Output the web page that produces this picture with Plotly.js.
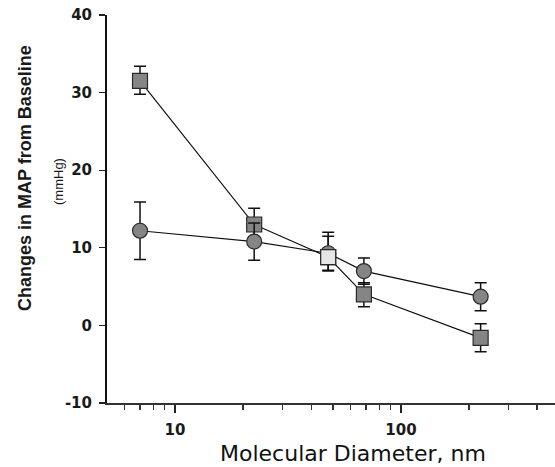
<!DOCTYPE html>
<html>
<head>
<meta charset="utf-8">
<script src="https://cdn.plot.ly/plotly-3.0.1.min.js"></script>
<style>html,body{margin:0;padding:0;background:#fff;}#chart{width:555px;height:467px;}</style>
</head>
<body>
<div id="chart"></div>
<script>
// Molecular diameter (nm)
var diameters = [7, 22.4, 47.6, 68.5, 225];
// Circle series: change in MAP (mmHg) and SEM
var circleValues = [12.2, 10.8, 9.3, 7.0, 3.7];
var circleErrPlus = [3.7, 2.4, 2.2, 1.7, 1.8];
var circleErrMinus = [3.7, 2.4, 2.2, 1.7, 1.8];
// Square series: change in MAP (mmHg) and SEM
var squareValues = [31.5, 13.0, 8.8, 4.0, -1.6];
var squareErrPlus = [1.9, 2.1, 3.2, 1.5, 1.8];
var squareErrMinus = [1.7, 2.1, 1.8, 1.6, 1.8];
// Axis ticks
var yTickVals = [-10, 0, 10, 20, 30, 40];
var yTickText = ['-10', '0', '10', '20', '30', '40'];
var xTickVals = [10, 100];
var xTickText = ['10', '100'];
var xMinorVals = [6, 7, 8, 9, 20, 30, 40, 50, 60, 70, 80, 90, 200, 300, 400];

var grey = '#858585';
var edge = '#2a2a2a';
var highlightIndex = 2; // light-filled square point

var squareColors = squareValues.map(function (v, i) { return i === highlightIndex ? '#e6e6e6' : grey; });

var traces = [
  {
    x: diameters, y: squareValues, type: 'scatter', mode: 'lines+markers',
    line: {color: '#111', width: 1.2},
    marker: {symbol: 'square', size: 15, color: squareColors, line: {color: edge, width: 1.2}},
    error_y: {type: 'data', symmetric: false, array: squareErrPlus, arrayminus: squareErrMinus,
              color: '#111', thickness: 1.5, width: 6},
    hoverinfo: 'x+y'
  },
  {
    x: diameters, y: circleValues, type: 'scatter', mode: 'lines+markers',
    line: {color: '#111', width: 1.2},
    marker: {symbol: 'circle', size: 15, color: grey, line: {color: edge, width: 1.2}},
    error_y: {type: 'data', symmetric: false, array: circleErrPlus, arrayminus: circleErrMinus,
              color: '#111', thickness: 1.5, width: 6},
    hoverinfo: 'x+y'
  },
  {
    x: [diameters[highlightIndex]], y: [squareValues[highlightIndex]], type: 'scatter', mode: 'markers',
    marker: {symbol: 'square', size: 15, color: squareColors[highlightIndex], line: {color: edge, width: 1.2}},
    hoverinfo: 'skip'
  }
];

var tickFont = {family: 'DejaVu Sans', size: 15, color: '#1a1a1a', weight: 'bold'};

var layout = {
  width: 555, height: 467,
  margin: {l: 107, r: 0, t: 15, b: 64, pad: 0},
  paper_bgcolor: '#fff', plot_bgcolor: '#fff',
  showlegend: false,
  xaxis: {
    type: 'log',
    range: [Math.log10(5), Math.log10(5) + 448 / 226],
    tickvals: xTickVals, ticktext: xTickText,
    ticks: 'outside', ticklen: 8, tickwidth: 1.5, tickcolor: '#222',
    minor: {tickvals: xMinorVals, ticks: 'outside', ticklen: 5, tickwidth: 1.2, tickcolor: '#333', showgrid: false},
    showline: true, linecolor: '#333', linewidth: 2,
    showgrid: false, zeroline: false,
    tickfont: tickFont,
    ticklabelstandoff: 4
  },
  yaxis: {
    range: [-10, 40],
    tickvals: yTickVals, ticktext: yTickText,
    ticks: 'outside', ticklen: 6, tickwidth: 1.2, tickcolor: '#222',
    showline: true, linecolor: '#111', linewidth: 2,
    showgrid: false, zeroline: false,
    tickfont: tickFont,
    ticklabelstandoff: 4
  },
  annotations: [
    {text: 'Molecular Diameter, nm', xref: 'paper', yref: 'paper', x: (353 - 107) / 448, y: (403 - 453) / 388,
     xanchor: 'center', yanchor: 'middle', showarrow: false,
     font: {family: 'DejaVu Sans', size: 22, color: '#111'}},
    {text: 'Changes in MAP from Baseline', xref: 'paper', yref: 'paper', x: (25 - 107) / 448, y: (403 - 178) / 388,
     xanchor: 'center', yanchor: 'middle', textangle: -90, showarrow: false,
     font: {family: 'Liberation Sans', size: 18, color: '#1a1a1a', weight: 'bold'}},
    {text: '(mmHg)', xref: 'paper', yref: 'paper', x: (58 - 107) / 448, y: (403 - 182) / 388,
     xanchor: 'center', yanchor: 'middle', textangle: -90, showarrow: false,
     font: {family: 'Liberation Sans', size: 13, color: '#1a1a1a'}}
  ]
};

Plotly.newPlot('chart', traces, layout, {displayModeBar: false, staticPlot: true});
</script>
</body>
</html>
